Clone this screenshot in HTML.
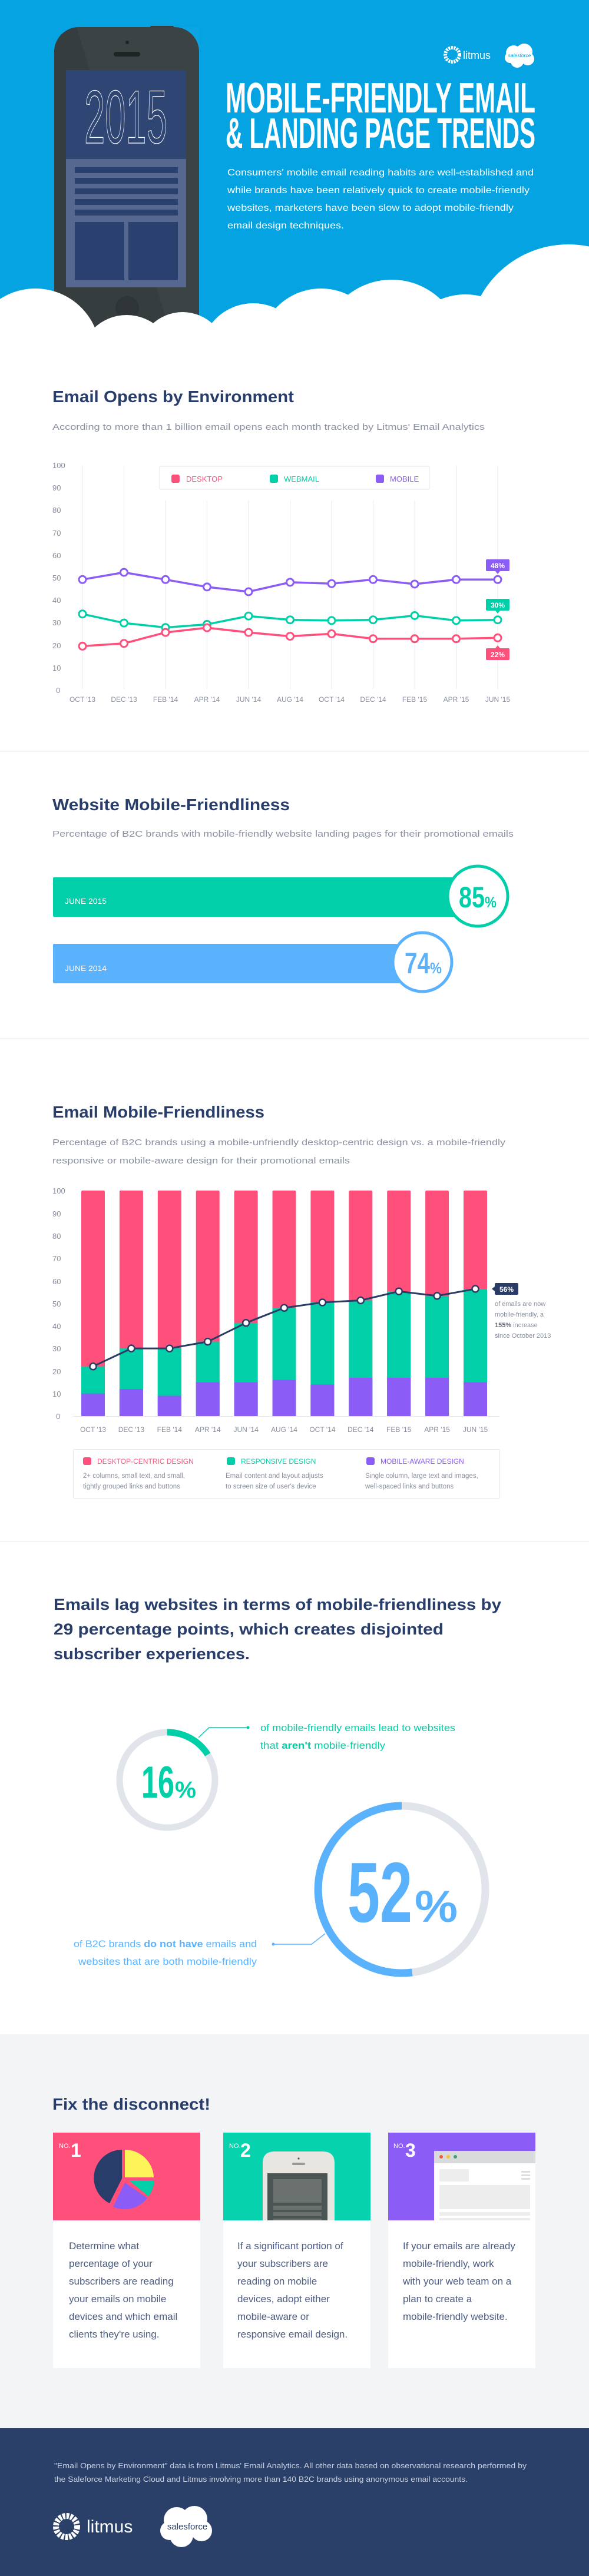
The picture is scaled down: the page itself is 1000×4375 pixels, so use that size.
<!DOCTYPE html>
<html><head><meta charset="utf-8"><style>
html,body{margin:0;padding:0;background:#fff}
svg{display:block}
text{font-family:"Liberation Sans",sans-serif}
</style></head><body>
<svg width="1000" height="4375" viewBox="0 0 1000 4375" xmlns="http://www.w3.org/2000/svg">
<!-- HERO -->
<rect x="0" y="0" width="1000" height="600" fill="#05a3e1"/>
<rect x="92" y="46" width="246" height="560" rx="42" fill="#363d3e"/>
<rect x="255" y="44" width="40" height="5" rx="2" fill="#363d3e"/>
<polygon points="130,46 338,46 338,600 300,600" fill="#ffffff" opacity="0.03"/>
<circle cx="216" cy="72" r="3" fill="#1e2324"/>
<rect x="193" y="88" width="45" height="8" rx="4" fill="#1e2324"/>
<rect x="112" y="119" width="204" height="151" fill="#2f4674"/>
<rect x="112" y="270" width="204" height="218" fill="#56688f"/>
<g fill="#2a4170">
<rect x="127" y="284" width="175" height="10"/><rect x="127" y="302" width="175" height="10"/>
<rect x="127" y="320" width="175" height="10"/><rect x="127" y="338" width="175" height="10"/>
<rect x="127" y="356" width="175" height="10"/>
<rect x="127" y="377" width="84" height="99"/><rect x="218" y="377" width="84" height="99"/>
</g>
<text x="143" y="243" font-size="128" fill="none" stroke="#fff" stroke-width="1.3" textLength="141" lengthAdjust="spacingAndGlyphs">2015</text>
<circle cx="216" cy="523" r="20" fill="#2f3536"/>
<!-- header logos -->
<circle cx="768" cy="93" r="12" fill="none" stroke="#fff" stroke-width="6" stroke-dasharray="3 1.5"/>
<text x="786" y="100" font-size="18" fill="#fff">litmus</text>
<g fill="#fff"><circle cx="872" cy="90" r="13"/><circle cx="890" cy="88" r="14"/><circle cx="896" cy="100" r="11"/><circle cx="878" cy="104" r="11"/><circle cx="866" cy="98" r="9"/></g>
<text x="882" y="97" font-size="8.5" font-style="italic" fill="#05a3e1" text-anchor="middle">salesforce</text>
<!-- title -->
<text x="383" y="191" font-size="72" font-weight="bold" fill="#fff" textLength="526" lengthAdjust="spacingAndGlyphs">MOBILE-FRIENDLY EMAIL</text>
<text x="383" y="251" font-size="72" font-weight="bold" fill="#fff" textLength="526" lengthAdjust="spacingAndGlyphs">&amp; LANDING PAGE TRENDS</text>
<g font-size="16" fill="#fff">
<text x="386" y="298" textLength="520" lengthAdjust="spacingAndGlyphs">Consumers' mobile email reading habits are well-established and</text>
<text x="386" y="328" textLength="513" lengthAdjust="spacingAndGlyphs">while brands have been relatively quick to create mobile-friendly</text>
<text x="386" y="358" textLength="486" lengthAdjust="spacingAndGlyphs">websites, marketers have been slow to adopt mobile-friendly</text>
<text x="386" y="388" textLength="198" lengthAdjust="spacingAndGlyphs">email design techniques.</text>
</g>
<!-- clouds -->
<g fill="#fff">
<circle cx="60" cy="600" r="110"/><circle cx="215" cy="615" r="80"/><circle cx="310" cy="605" r="75"/>
<circle cx="430" cy="605" r="90"/><circle cx="545" cy="595" r="105"/><circle cx="665" cy="595" r="120"/>
<circle cx="790" cy="610" r="110"/><circle cx="965" cy="585" r="170"/>
<rect x="0" y="570" width="1000" height="40"/>
</g>

<!-- SECTION 1 -->
<text x="89" y="683" font-size="28" font-weight="bold" fill="#283d6a" textLength="410" lengthAdjust="spacingAndGlyphs">Email Opens by Environment</text>
<text x="89" y="730" font-size="15" fill="#8a90a0" textLength="734" lengthAdjust="spacingAndGlyphs">According to more than 1 billion email opens each month tracked by Litmus' Email Analytics</text>
<g stroke="#e6e8ec" stroke-width="1">
<line x1="140" y1="791" x2="140" y2="1170"/><line x1="210.5" y1="791" x2="210.5" y2="1170"/>
<line x1="281" y1="850" x2="281" y2="1170"/><line x1="351.5" y1="850" x2="351.5" y2="1170"/>
<line x1="422" y1="850" x2="422" y2="1170"/><line x1="492.5" y1="850" x2="492.5" y2="1170"/>
<line x1="563" y1="850" x2="563" y2="1170"/><line x1="633.5" y1="850" x2="633.5" y2="1170"/>
<line x1="704" y1="850" x2="704" y2="1170"/><line x1="774.5" y1="791" x2="774.5" y2="1170"/>
<line x1="845" y1="791" x2="845" y2="1170"/>
</g>
<g font-size="13" fill="#8a90a0">
<text x="89" y="795">100</text><text x="89" y="833">90</text><text x="89" y="871">80</text><text x="89" y="910">70</text>
<text x="89" y="948">60</text><text x="89" y="986">50</text><text x="89" y="1024">40</text><text x="89" y="1062">30</text>
<text x="89" y="1101">20</text><text x="89" y="1139">10</text><text x="95" y="1177">0</text>
</g>
<g font-size="12" fill="#8a90a0" text-anchor="middle">
<text x="140" y="1192">OCT '13</text><text x="210.5" y="1192">DEC '13</text><text x="281" y="1192">FEB '14</text>
<text x="351.5" y="1192">APR '14</text><text x="422" y="1192">JUN '14</text><text x="492.5" y="1192">AUG '14</text>
<text x="563" y="1192">OCT '14</text><text x="633.5" y="1192">DEC '14</text><text x="704" y="1192">FEB '15</text>
<text x="774.5" y="1192">APR '15</text><text x="845" y="1192">JUN '15</text>
</g>
<rect x="271" y="792" width="458" height="39" rx="2" fill="#fff" stroke="#e3e5ea"/>
<rect x="291" y="806" width="14" height="14" rx="3" fill="#ff4f7b"/><text x="316" y="818" font-size="13" fill="#ff4f7b">DESKTOP</text>
<rect x="458" y="806" width="14" height="14" rx="3" fill="#00cfa8"/><text x="482" y="818" font-size="13" fill="#00cfa8">WEBMAIL</text>
<rect x="638" y="806" width="14" height="14" rx="3" fill="#8b5cf6"/><text x="662" y="818" font-size="13" fill="#8b5cf6">MOBILE</text>
<g fill="none" stroke-width="3.5" stroke-linejoin="round">
<polyline stroke="#8b5cf6" points="140,984.3 210.5,972.1 281,984.3 351.5,996.9 422,1005 492.5,988.9 563,991.2 633.5,984.3 704,992 774.5,984.3 845,984.3"/>
<polyline stroke="#00cfa8" points="140,1042.8 210.5,1058.1 281,1065.7 351.5,1060.4 422,1046.2 492.5,1052.7 563,1053.9 633.5,1052.7 704,1045.5 774.5,1053.9 845,1052.7"/>
<polyline stroke="#ff4f7b" points="140,1097.4 210.5,1092.8 281,1074.1 351.5,1066.1 422,1074.1 492.5,1080.6 563,1076.4 633.5,1084.8 704,1084.8 774.5,1084.8 845,1083.3"/>
</g>
<g fill="#fff" stroke-width="3">
<g stroke="#8b5cf6"><circle cx="140" cy="984.3" r="6"/><circle cx="210.5" cy="972.1" r="6"/><circle cx="281" cy="984.3" r="6"/><circle cx="351.5" cy="996.9" r="6"/><circle cx="422" cy="1005" r="6"/><circle cx="492.5" cy="988.9" r="6"/><circle cx="563" cy="991.2" r="6"/><circle cx="633.5" cy="984.3" r="6"/><circle cx="704" cy="992" r="6"/><circle cx="774.5" cy="984.3" r="6"/><circle cx="845" cy="984.3" r="6"/></g>
<g stroke="#00cfa8"><circle cx="140" cy="1042.8" r="6"/><circle cx="210.5" cy="1058.1" r="6"/><circle cx="281" cy="1065.7" r="6"/><circle cx="351.5" cy="1060.4" r="6"/><circle cx="422" cy="1046.2" r="6"/><circle cx="492.5" cy="1052.7" r="6"/><circle cx="563" cy="1053.9" r="6"/><circle cx="633.5" cy="1052.7" r="6"/><circle cx="704" cy="1045.5" r="6"/><circle cx="774.5" cy="1053.9" r="6"/><circle cx="845" cy="1052.7" r="6"/></g>
<g stroke="#ff4f7b"><circle cx="140" cy="1097.4" r="6"/><circle cx="210.5" cy="1092.8" r="6"/><circle cx="281" cy="1074.1" r="6"/><circle cx="351.5" cy="1066.1" r="6"/><circle cx="422" cy="1074.1" r="6"/><circle cx="492.5" cy="1080.6" r="6"/><circle cx="563" cy="1076.4" r="6"/><circle cx="633.5" cy="1084.8" r="6"/><circle cx="704" cy="1084.8" r="6"/><circle cx="774.5" cy="1084.8" r="6"/><circle cx="845" cy="1083.3" r="6"/></g>
</g>
<g font-size="12" font-weight="bold" fill="#fff" text-anchor="middle">
<rect x="825" y="950" width="40" height="20" rx="2" fill="#8b5cf6"/><polygon points="841,970 849,970 845,975" fill="#8b5cf6"/><text x="845" y="965">48%</text>
<rect x="825" y="1017" width="40" height="20" rx="2" fill="#00cfa8"/><polygon points="841,1037 849,1037 845,1042" fill="#00cfa8"/><text x="845" y="1032">30%</text>
<rect x="825" y="1101" width="40" height="20" rx="2" fill="#ff4f7b"/><polygon points="841,1101 849,1101 845,1096" fill="#ff4f7b"/><text x="845" y="1116">22%</text>
</g>
<line x1="0" y1="1276" x2="1000" y2="1276" stroke="#e6e8ec"/>

<!-- SECTION 2 -->
<text x="89" y="1376" font-size="28" font-weight="bold" fill="#283d6a" textLength="403" lengthAdjust="spacingAndGlyphs">Website Mobile-Friendliness</text>
<text x="89" y="1421" font-size="15" fill="#8a90a0" textLength="783" lengthAdjust="spacingAndGlyphs">Percentage of B2C brands with mobile-friendly website landing pages for their promotional emails</text>
<rect x="90" y="1490" width="700" height="67" rx="2" fill="#00cfaa"/>
<text x="110" y="1535" font-size="13" fill="#fff" textLength="71" lengthAdjust="spacingAndGlyphs">JUNE 2015</text>
<circle cx="811" cy="1522" r="51" fill="#fff" stroke="#00cfaa" stroke-width="5"/>
<text x="779" y="1541" font-size="50" font-weight="bold" fill="#00cfaa" textLength="44" lengthAdjust="spacingAndGlyphs">85</text>
<text x="823" y="1541" font-size="26" font-weight="bold" fill="#00cfaa" textLength="20" lengthAdjust="spacingAndGlyphs">%</text>
<rect x="90" y="1603" width="610" height="67" rx="2" fill="#5bb2fc"/>
<text x="110" y="1649" font-size="13" fill="#fff" textLength="71" lengthAdjust="spacingAndGlyphs">JUNE 2014</text>
<circle cx="717" cy="1634" r="50" fill="#fff" stroke="#5bb2fc" stroke-width="5"/>
<text x="687" y="1653" font-size="50" font-weight="bold" fill="#5bb2fc" textLength="43" lengthAdjust="spacingAndGlyphs">74</text>
<text x="730" y="1653" font-size="26" font-weight="bold" fill="#5bb2fc" textLength="20" lengthAdjust="spacingAndGlyphs">%</text>
<line x1="0" y1="1764" x2="1000" y2="1764" stroke="#e6e8ec"/>

<!-- SECTION 3 -->
<text x="89" y="1898" font-size="28" font-weight="bold" fill="#283d6a" textLength="360" lengthAdjust="spacingAndGlyphs">Email Mobile-Friendliness</text>
<text x="89" y="1945" font-size="15" fill="#8a90a0" textLength="769" lengthAdjust="spacingAndGlyphs">Percentage of B2C brands using a mobile-unfriendly desktop-centric design vs. a mobile-friendly</text>
<text x="89" y="1976" font-size="15" fill="#8a90a0" textLength="505" lengthAdjust="spacingAndGlyphs">responsive or mobile-aware design for their promotional emails</text>
<g font-size="13" fill="#8a90a0">
<text x="89" y="2027">100</text><text x="89" y="2066">90</text><text x="89" y="2104">80</text><text x="89" y="2142">70</text>
<text x="89" y="2181">60</text><text x="89" y="2219">50</text><text x="89" y="2257">40</text><text x="89" y="2295">30</text>
<text x="89" y="2334">20</text><text x="89" y="2372">10</text><text x="95" y="2410">0</text>
</g>
<g>
<g fill="#ff4f7b">
<rect x="138" y="2022" width="40" height="383" rx="2"/><rect x="202.9" y="2022" width="40" height="383" rx="2"/><rect x="267.8" y="2022" width="40" height="383" rx="2"/><rect x="332.7" y="2022" width="40" height="383" rx="2"/><rect x="397.6" y="2022" width="40" height="383" rx="2"/><rect x="462.5" y="2022" width="40" height="383" rx="2"/><rect x="527.4" y="2022" width="40" height="383" rx="2"/><rect x="592.3" y="2022" width="40" height="383" rx="2"/><rect x="657.2" y="2022" width="40" height="383" rx="2"/><rect x="722.1" y="2022" width="40" height="383" rx="2"/><rect x="787" y="2022" width="40" height="383" rx="2"/>
</g>
<g fill="#00cfa8">
<rect x="138" y="2320.7" width="40" height="84.3"/><rect x="202.9" y="2290.1" width="40" height="114.9"/><rect x="267.8" y="2290.1" width="40" height="114.9"/><rect x="332.7" y="2278.6" width="40" height="126.4"/><rect x="397.6" y="2246.8" width="40" height="158.2"/><rect x="462.5" y="2221.2" width="40" height="183.8"/><rect x="527.4" y="2212" width="40" height="193"/><rect x="592.3" y="2208.5" width="40" height="196.5"/><rect x="657.2" y="2193.2" width="40" height="211.8"/><rect x="722.1" y="2200.9" width="40" height="204.1"/><rect x="787" y="2189" width="40" height="216"/>
</g>
<g fill="#8b5cf6">
<rect x="138" y="2366.7" width="40" height="38.3"/><rect x="202.9" y="2359" width="40" height="46"/><rect x="267.8" y="2370.5" width="40" height="34.5"/><rect x="332.7" y="2347.6" width="40" height="57.4"/><rect x="397.6" y="2347.6" width="40" height="57.4"/><rect x="462.5" y="2343.7" width="40" height="61.3"/><rect x="527.4" y="2351.4" width="40" height="53.6"/><rect x="592.3" y="2339.9" width="40" height="65.1"/><rect x="657.2" y="2339.9" width="40" height="65.1"/><rect x="722.1" y="2339.9" width="40" height="65.1"/><rect x="787" y="2347.6" width="40" height="57.4"/>
</g>
</g>
<line x1="124" y1="2405.5" x2="848" y2="2405.5" stroke="#e3e5ea"/>
<polyline fill="none" stroke="#2a3c66" stroke-width="3" stroke-linejoin="round" points="158,2320.7 222.9,2290.1 287.8,2290.1 352.7,2278.6 417.6,2246.8 482.5,2221.2 547.4,2212 612.3,2208.5 677.2,2193.2 742.1,2200.9 807,2189"/>
<g fill="#fff" stroke="#2a3c66" stroke-width="2.5">
<circle cx="158" cy="2320.7" r="5.5"/><circle cx="222.9" cy="2290.1" r="5.5"/><circle cx="287.8" cy="2290.1" r="5.5"/><circle cx="352.7" cy="2278.6" r="5.5"/><circle cx="417.6" cy="2246.8" r="5.5"/><circle cx="482.5" cy="2221.2" r="5.5"/><circle cx="547.4" cy="2212" r="5.5"/><circle cx="612.3" cy="2208.5" r="5.5"/><circle cx="677.2" cy="2193.2" r="5.5"/><circle cx="742.1" cy="2200.9" r="5.5"/><circle cx="807" cy="2189" r="5.5"/>
</g>
<g font-size="12" fill="#8a90a0" text-anchor="middle">
<text x="158" y="2432">OCT '13</text><text x="222.9" y="2432">DEC '13</text><text x="287.8" y="2432">FEB '14</text><text x="352.7" y="2432">APR '14</text><text x="417.6" y="2432">JUN '14</text><text x="482.5" y="2432">AUG '14</text><text x="547.4" y="2432">OCT '14</text><text x="612.3" y="2432">DEC '14</text><text x="677.2" y="2432">FEB '15</text><text x="742.1" y="2432">APR '15</text><text x="807" y="2432">JUN '15</text>
</g>
<rect x="840" y="2179" width="40" height="20" rx="2" fill="#2a3c66"/><polygon points="840,2185 840,2193 835,2189" fill="#2a3c66"/>
<text x="860" y="2194" font-size="12" font-weight="bold" fill="#fff" text-anchor="middle">56%</text>
<g font-size="11" fill="#8a90a0">
<text x="840" y="2218">of emails are now</text><text x="840" y="2236">mobile-friendly, a</text>
<text x="840" y="2254"><tspan font-weight="bold" fill="#6b7185">155%</tspan> increase</text><text x="840" y="2272">since October 2013</text>
</g>
<rect x="124.5" y="2461.5" width="724" height="83" rx="2" fill="#fff" stroke="#e3e5ea"/>
<rect x="141" y="2475" width="14" height="13" rx="3" fill="#ff4f7b"/><text x="165" y="2486" font-size="12" fill="#ff4f7b">DESKTOP-CENTRIC DESIGN</text>
<rect x="385" y="2475" width="14" height="13" rx="3" fill="#00cfa8"/><text x="409" y="2486" font-size="12" fill="#00cfa8">RESPONSIVE DESIGN</text>
<rect x="622" y="2475" width="14" height="13" rx="3" fill="#8b5cf6"/><text x="646" y="2486" font-size="12" fill="#8b5cf6">MOBILE-AWARE DESIGN</text>
<g font-size="11.5" fill="#8a90a0">
<text x="141" y="2510">2+ columns, small text, and small,</text><text x="141" y="2528">tightly grouped links and buttons</text>
<text x="383" y="2510">Email content and layout adjusts</text><text x="383" y="2528">to screen size of user's device</text>
<text x="620" y="2510">Single column, large text and images,</text><text x="620" y="2528">well-spaced links and buttons</text>
</g>
<line x1="0" y1="2618" x2="1000" y2="2618" stroke="#e6e8ec"/>

<!-- SECTION 4 -->
<g font-size="27" font-weight="bold" fill="#283d6a">
<text x="91" y="2734" textLength="760" lengthAdjust="spacingAndGlyphs">Emails lag websites in terms of mobile-friendliness by</text>
<text x="91" y="2776" textLength="662" lengthAdjust="spacingAndGlyphs">29 percentage points, which creates disjointed</text>
<text x="91" y="2818" textLength="333" lengthAdjust="spacingAndGlyphs">subscriber experiences.</text>
</g>
<circle cx="284" cy="3023" r="81" fill="none" stroke="#e1e4ea" stroke-width="11"/>
<path d="M284,2942 A81,81 0 0 1 352.7,2980" fill="none" stroke="#00cfa8" stroke-width="11"/>
<polyline points="337,2951 355,2934 421,2934" fill="none" stroke="#00cfa8" stroke-width="1.5"/>
<circle cx="421" cy="2934" r="2.5" fill="#00cfa8"/>
<text x="240" y="3053" font-size="76" font-weight="bold" fill="#00cfa8" textLength="56" lengthAdjust="spacingAndGlyphs">16</text>
<text x="297" y="3053" font-size="40" font-weight="bold" fill="#00cfa8" textLength="36" lengthAdjust="spacingAndGlyphs">%</text>
<g font-size="17" fill="#00cfa8">
<text x="442" y="2940" textLength="331" lengthAdjust="spacingAndGlyphs">of mobile-friendly emails lead to websites</text>
<text x="442" y="2970" textLength="212" lengthAdjust="spacingAndGlyphs">that <tspan font-weight="bold">aren't</tspan> mobile-friendly</text>
</g>
<circle cx="682" cy="3209" r="142" fill="none" stroke="#e1e4ea" stroke-width="13"/>
<path d="M682,3067 A142,142 0 1 0 699.8,3349.9" fill="none" stroke="#5bb2fc" stroke-width="13"/>
<polyline points="552,3284 529,3302 464,3302" fill="none" stroke="#5bb2fc" stroke-width="1.5"/>
<circle cx="464" cy="3302" r="2.5" fill="#5bb2fc"/>
<text x="590" y="3264" font-size="145" font-weight="bold" fill="#5bb2fc" textLength="110" lengthAdjust="spacingAndGlyphs">52</text>
<text x="704" y="3264" font-size="76" font-weight="bold" fill="#5bb2fc" textLength="73" lengthAdjust="spacingAndGlyphs">%</text>
<g font-size="17" fill="#5bb2fc" text-anchor="end">
<text x="436" y="3307" textLength="311" lengthAdjust="spacingAndGlyphs">of B2C brands <tspan font-weight="bold">do not have</tspan> emails and</text>
<text x="436" y="3337" textLength="303" lengthAdjust="spacingAndGlyphs">websites that are both mobile-friendly</text>
</g>

<!-- SECTION 5 -->
<rect x="0" y="3455" width="1000" height="670" fill="#f3f4f6"/>
<text x="89" y="3583" font-size="28" font-weight="bold" fill="#283d6a" textLength="268" lengthAdjust="spacingAndGlyphs">Fix the disconnect!</text>
<rect x="90" y="3622" width="250" height="400" rx="2" fill="#fff"/>
<rect x="379" y="3622" width="250" height="400" rx="2" fill="#fff"/>
<rect x="659" y="3622" width="250" height="400" rx="2" fill="#fff"/>
<rect x="90" y="3622" width="250" height="149" fill="#ff4f7b"/>
<text x="100" y="3648" font-size="11" fill="#fff">NO.</text><text x="120" y="3663" font-size="32" font-weight="bold" fill="#fff">1</text>
<path d="M212,3698 L212,3651 A49,49 0 0 1 261,3698 Z" fill="#fdf45a"/>
<path d="M219,3703 L262,3703 A48,48 0 0 1 252,3730 Z" fill="#00cfa8"/>
<path d="M212,3707 L250,3733 A48,48 0 0 1 192,3748 Z" fill="#8b5cf6"/>
<path d="M207,3700 L186,3742 A48,48 0 0 1 207,3651 Z" fill="#283d6a"/>
<rect x="379" y="3622" width="250" height="149" fill="#06d3ad"/>
<text x="389" y="3648" font-size="11" fill="#fff">NO.</text><text x="408" y="3663" font-size="32" font-weight="bold" fill="#fff">2</text>
<path d="M446,3771 L446,3674 Q446,3654 466,3654 L548,3654 Q568,3654 568,3674 L568,3771 Z" fill="#e8e6e1"/>
<circle cx="507" cy="3666" r="1.6" fill="#555"/><rect x="496" y="3673" width="22" height="4" rx="2" fill="#999"/>
<rect x="454" y="3691" width="102" height="80" fill="#4b5553"/>
<rect x="464" y="3701" width="82" height="40" fill="#6a716f"/>
<rect x="464" y="3746" width="82" height="7" fill="#6a716f"/><rect x="464" y="3757" width="82" height="7" fill="#6a716f"/><rect x="464" y="3768" width="82" height="3" fill="#6a716f"/>
<rect x="659" y="3622" width="250" height="149" fill="#8b5cf6"/>
<text x="668" y="3648" font-size="11" fill="#fff">NO.</text><text x="688" y="3663" font-size="32" font-weight="bold" fill="#fff">3</text>
<rect x="737" y="3653" width="172" height="118" fill="#fff"/>
<rect x="737" y="3653" width="172" height="21" fill="#d9dadc"/>
<circle cx="749" cy="3663" r="3" fill="#f25c3c"/><circle cx="761" cy="3663" r="3" fill="#f6c236"/><circle cx="773" cy="3663" r="3" fill="#3fa36b"/>
<rect x="746" y="3684" width="50" height="21" fill="#ededed"/>
<rect x="885" y="3687" width="15" height="3" fill="#ddd"/><rect x="885" y="3693" width="15" height="3" fill="#ddd"/><rect x="885" y="3699" width="15" height="3" fill="#ddd"/>
<rect x="746" y="3711" width="154" height="41" fill="#ededed"/>
<rect x="746" y="3757" width="154" height="6" fill="#ededed"/><rect x="746" y="3767" width="154" height="4" fill="#ededed"/>
<g font-size="17" fill="#4c5c82">
<text x="117" y="3820">Determine what</text><text x="117" y="3850">percentage of your</text><text x="117" y="3880">subscribers are reading</text><text x="117" y="3910">your emails on mobile</text><text x="117" y="3940">devices and which email</text><text x="117" y="3970">clients they're using.</text>
<text x="403" y="3820">If a significant portion of</text><text x="403" y="3850">your subscribers are</text><text x="403" y="3880">reading on mobile</text><text x="403" y="3910">devices, adopt either</text><text x="403" y="3940">mobile-aware or</text><text x="403" y="3970">responsive email design.</text>
<text x="684" y="3820">If your emails are already</text><text x="684" y="3850">mobile-friendly, work</text><text x="684" y="3880">with your web team on a</text><text x="684" y="3910">plan to create a</text><text x="684" y="3940">mobile-friendly website.</text>
</g>

<!-- FOOTER -->
<rect x="0" y="4124" width="1000" height="251" fill="#2a4069"/>
<g font-size="13" fill="#c8d0e0">
<text x="92" y="4192" textLength="802" lengthAdjust="spacingAndGlyphs">"Email Opens by Environment" data is from Litmus' Email Analytics. All other data based on observational research performed by</text>
<text x="92" y="4215" textLength="702" lengthAdjust="spacingAndGlyphs">the Saleforce Marketing Cloud and Litmus involving more than 140 B2C brands using anonymous email accounts.</text>
</g>
<circle cx="113" cy="4291" r="18" fill="none" stroke="#fff" stroke-width="10" stroke-dasharray="4.5 2"/>
<text x="147" y="4301" font-size="30" fill="#fff">litmus</text>
<g fill="#fff"><circle cx="300" cy="4280" r="22"/><circle cx="330" cy="4278" r="22"/><circle cx="342" cy="4298" r="18"/><circle cx="308" cy="4306" r="20"/><circle cx="288" cy="4298" r="16"/></g>
<text x="318" y="4296" font-size="15" fill="#2a4069" text-anchor="middle">salesforce</text>
</svg>
</body></html>
